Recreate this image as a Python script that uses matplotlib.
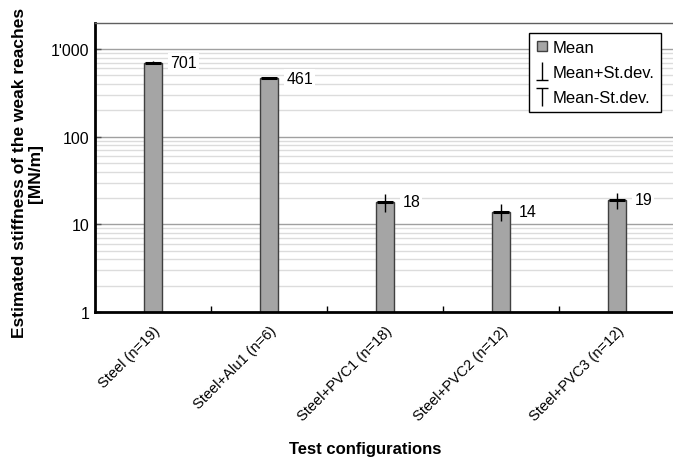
import numpy as np
import matplotlib
matplotlib.use("Agg")
import matplotlib.pyplot as plt
from matplotlib.lines import Line2D
from matplotlib.path import Path
from matplotlib.ticker import FixedLocator, FixedFormatter, NullFormatter

plt.rcParams['font.family'] = ['Liberation Sans', 'DejaVu Sans']

# Datos
configuraciones = ["Steel (n=19)", "Steel+Alu1 (n=6)", "Steel+PVC1 (n=18)",
                   "Steel+PVC2 (n=12)", "Steel+PVC3 (n=12)"]
media = [701, 461, 18, 14, 19]
desv = [32, 8, 4, 3, 4]
etiquetas = ["701", "461", "18", "14", "19"]

yticks = [1, 10, 100, 1000]
ytick_labels = ["1", "10", "100", "1'000"]

fig = plt.figure(figsize=(6.73, 4.60), dpi=100)
ax = fig.add_axes([95 / 673, 1 - 313 / 460, 580 / 673, 289 / 460])

x = np.arange(len(configuraciones))
ancho = 0.16

ax.set_yscale("log")
ax.set_ylim(1, 1980)
ax.set_xlim(-0.5, len(configuraciones) - 0.5)

# lineas de cuadricula
menores = [m * 10 ** d for d in range(0, 4) for m in range(2, 10)]
for v in menores:
    if v < 1980:
        ax.axhline(v, color="#dcdcdc", lw=1, zorder=0)
for v in yticks[1:]:
    ax.axhline(v, color="#a0a0a0", lw=1, zorder=0.5)

ax.bar(x, media, ancho, color="#a5a5a5", edgecolor="#404040", lw=1, zorder=2)

# media y desviacion estandar
ax.hlines(media, x - ancho / 2 + 0.01, x + ancho / 2 - 0.01, color="black", lw=2.2, zorder=3)
ax.vlines(x, np.array(media) - np.array(desv), np.array(media) + np.array(desv),
          color="black", lw=1, zorder=3)

for i, v in enumerate(media):
    ax.text(x[i] + 0.15, v, etiquetas[i], ha="left", va="center", fontsize=11.5, zorder=4,
            bbox=dict(facecolor="white", edgecolor="none", pad=1.5))

ax.yaxis.set_major_locator(FixedLocator(yticks))
ax.yaxis.set_major_formatter(FixedFormatter(ytick_labels))
ax.yaxis.set_minor_locator(FixedLocator([]))
ax.yaxis.set_minor_formatter(NullFormatter())
ax.tick_params(axis="y", direction="in", length=4, width=1, color="#505050", labelsize=11.5, pad=4)

ax.xaxis.set_major_locator(FixedLocator(x))
ax.set_xticklabels(configuraciones, rotation=45, ha="right", rotation_mode="anchor", fontsize=10.5)
ax.tick_params(axis="x", length=0, pad=8)
ax.xaxis.set_minor_locator(FixedLocator(x[:-1] + 0.5))
ax.tick_params(axis="x", which="minor", direction="in", length=4, width=1, color="black")

for s in ["left", "bottom"]:
    ax.spines[s].set_linewidth(2)
    ax.spines[s].set_color("black")
for s in ["top", "right"]:
    ax.spines[s].set_linewidth(1)
    ax.spines[s].set_color("#606060")

ax.set_ylabel("Estimated stiffness of the weak reaches\n[MN/m]", fontsize=12.5,
              fontweight="bold", linespacing=1.1)
ax.yaxis.set_label_coords(-0.09, 0.484)
fig.text(365 / 673, 1 - 450 / 460, "Test configurations", ha="center", va="center",
         fontsize=12, fontweight="bold")

# marcadores de la leyenda
perp = Path([(0, -1), (0, 1), (-0.7, -1), (0.7, -1)],
            [Path.MOVETO, Path.LINETO, Path.MOVETO, Path.LINETO])
top = Path([(0, -1), (0, 1), (-0.7, 1), (0.7, 1)],
           [Path.MOVETO, Path.LINETO, Path.MOVETO, Path.LINETO])
handles = [
    Line2D([], [], ls="none", marker="s", markersize=7, markerfacecolor="#a5a5a5",
           markeredgecolor="#404040"),
    Line2D([], [], ls="none", marker=perp, markersize=13, markeredgewidth=1,
           markerfacecolor="none", color="black"),
    Line2D([], [], ls="none", marker=top, markersize=13, markeredgewidth=1,
           markerfacecolor="none", color="black"),
]
leg = ax.legend(handles, ["Mean", "Mean+St.dev.", "Mean-St.dev."], loc="upper right",
                bbox_to_anchor=(661 / 673, 1 - 34 / 460), bbox_transform=fig.transFigure,
                borderaxespad=0, fontsize=12, frameon=True, fancybox=False, framealpha=1,
                handlelength=0.7, handletextpad=0.3, borderpad=0.4, labelspacing=0.62)
leg.get_frame().set_edgecolor("black")
leg.get_frame().set_linewidth(1)
leg.set_zorder(5)

fig.savefig("out.png", dpi=100)
